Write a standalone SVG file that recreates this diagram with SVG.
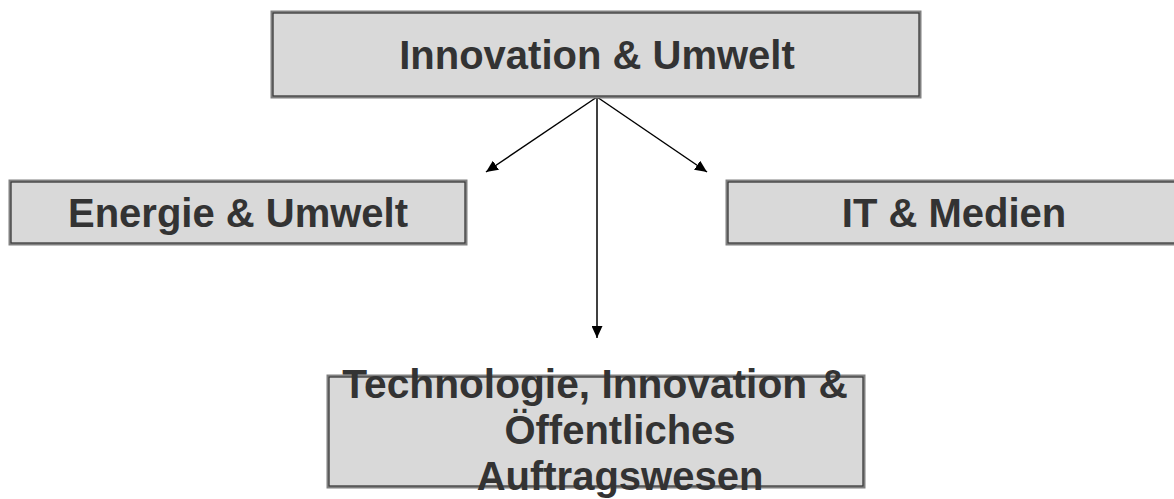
<svg xmlns="http://www.w3.org/2000/svg" width="1174" height="499" viewBox="0 0 1174 499">
<defs>
<style>
.box{fill:#d9d9d9;stroke:#808080;stroke-width:3}
.edge{fill:none;stroke:#333;stroke-width:1}
.lbl{font-family:"Liberation Sans",Arial,sans-serif;font-weight:bold;font-size:40px;fill:#333;text-anchor:middle}
.conn{stroke:#000;stroke-width:1.5;fill:none}
</style>
<marker id="ah" viewBox="0 0 12 11" refX="12" refY="5.5" markerWidth="12" markerHeight="11" markerUnits="userSpaceOnUse" orient="auto">
<path d="M0,0 L12,5.5 L0,11 z" fill="#000"/>
</marker>
</defs>
<rect width="1174" height="499" fill="#fff"/>
<g id="connectors">
<line class="conn" x1="597" y1="97" x2="486" y2="172" marker-end="url(#ah)"/>
<line class="conn" x1="597" y1="97" x2="707" y2="172" marker-end="url(#ah)"/>
<line class="conn" x1="597" y1="97" x2="597" y2="338" marker-end="url(#ah)"/>
</g>
<g id="node-innovation-umwelt">
<rect class="box" x="272" y="12" width="648" height="85"/>
<rect class="edge" x="273" y="13" width="646" height="83"/>
<text class="lbl" x="597" y="69">Innovation &amp; Umwelt</text>
</g>
<g id="node-energie-umwelt">
<rect class="box" x="10" y="181" width="456" height="63"/>
<rect class="edge" x="11" y="182" width="454" height="61"/>
<text class="lbl" x="238" y="227">Energie &amp; Umwelt</text>
</g>
<g id="node-it-medien">
<rect class="box" x="727" y="181" width="463" height="63"/>
<rect class="edge" x="728" y="182" width="461" height="61"/>
<text class="lbl" x="954" y="227">IT &amp; Medien</text>
</g>
<g id="node-technologie">
<rect class="box" x="328" y="376" width="536" height="111"/>
<rect class="edge" x="329" y="377" width="534" height="109"/>
<text class="lbl" x="595" y="398" style="font-size:40.7px">Technologie, Innovation &amp;</text>
<text class="lbl" x="620" y="444" style="font-size:40px">Öffentliches</text>
<text class="lbl" x="620" y="490" style="font-size:40px">Auftragswesen</text>
</g>
</svg>
